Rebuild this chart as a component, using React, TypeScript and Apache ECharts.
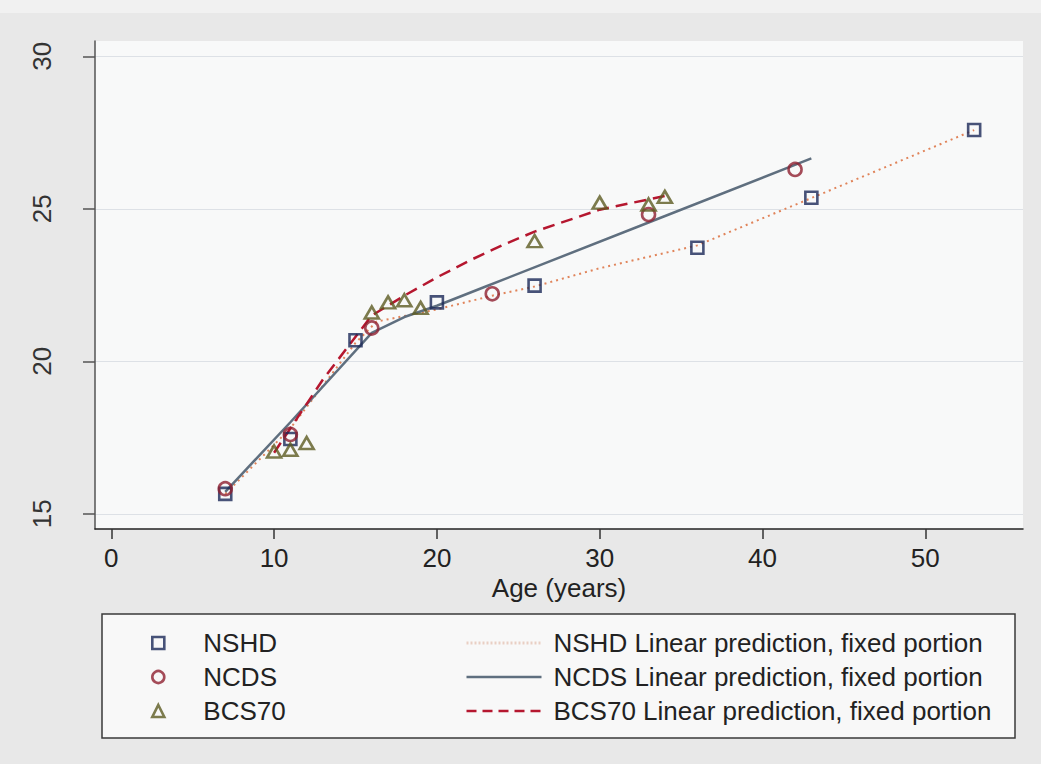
import React, { useEffect, useRef } from "react";
import * as echarts from "echarts";

// Observed values (age in years, BMI)
const nshdAge = [7, 11, 15, 20, 26, 36, 43, 53];
const nshdBmi = [15.65, 17.45, 20.69, 21.93, 22.48, 23.72, 25.36, 27.58];
const ncdsAge = [7, 11, 16, 23.4, 33, 42];
const ncdsBmi = [15.82, 17.6, 21.09, 22.21, 24.81, 26.29];
const bcsAge = [10, 11, 12, 16, 17, 18, 19, 26, 30, 33, 34];
const bcsBmi = [17.04, 17.1, 17.32, 21.6, 21.93, 22.0, 21.75, 23.94, 25.2, 25.14, 25.39];

// Linear predictions, fixed portion
const nshdFitAge = [7, 11, 15, 16.3, 20, 23.4, 26, 30, 36, 43, 53];
const nshdFitBmi = [15.65, 17.8, 20.6, 21.3, 21.7, 22.15, 22.45, 23.05, 23.8, 25.35, 27.58];
const ncdsFitAge = [7, 11, 16, 18, 20, 23, 33, 43];
const ncdsFitBmi = [15.72, 18.0, 20.93, 21.45, 21.82, 22.45, 24.55, 26.65];
const bcsFitAge = [10, 13, 16, 18, 20, 22, 24, 26, 30, 34];
const bcsFitBmi = [17.0, 19.4, 21.5, 22.15, 22.75, 23.3, 23.8, 24.25, 24.97, 25.42];

const xTicks = [0, 10, 20, 30, 40, 50];
const yTicks = [15, 20, 25, 30];

const cohortNames = ["NSHD", "NCDS", "BCS70"];
const fitNames = [
  "NSHD Linear prediction, fixed portion",
  "NCDS Linear prediction, fixed portion",
  "BCS70 Linear prediction, fixed portion",
];

const zip = (a: number[], b: number[]) => a.map((v, i) => [v, b[i]]);

const NAVY = "#1a2858";
const MAROON = "#8e1f30";
const OLIVE = "#5c5b22";
const ORANGE = "#e0845a";
const SLATE = "#5f6f7f";
const CRIMSON = "#b5172f";
const FONT = "'Liberation Sans', Arial, Helvetica, sans-serif";

export default function App() {
  const ref = useRef<HTMLDivElement>(null);
  useEffect(() => {
    if (!ref.current) return;
    const chart = echarts.init(ref.current, null, { renderer: "svg" });
    const hollow = (c: string) => ({ color: "rgba(0,0,0,0)", borderColor: c, borderWidth: 2.6 });
    const noSymbol = { opacity: 0, color: "rgba(0,0,0,0)", borderWidth: 0 };
    chart.setOption({
      animation: false,
      backgroundColor: "#e8e8e8",
      textStyle: { fontFamily: FONT },
      graphic: [
        { type: "rect", shape: { x: 0, y: 0, width: 1041, height: 13 }, style: { fill: "#f1f1f1" }, z: -10 },
        {
          type: "rect",
          shape: { x: 102, y: 614, width: 913, height: 124 },
          style: { fill: "#f8f8f8", stroke: "#3a3a3a", lineWidth: 1.5 },
          z: -1,
        },
      ],
      grid: {
        left: 95,
        right: 18,
        top: 41,
        bottom: 235,
        show: true,
        backgroundColor: "#f8f9f9",
        borderWidth: 0,
      },
      xAxis: {
        type: "value",
        min: -1,
        max: 56,
        name: "Age (years)",
        nameLocation: "middle",
        nameGap: 49,
        nameMoveOverlap: false,
        nameTextStyle: { fontSize: 26, lineHeight: 20, color: "#222", fontFamily: FONT },
        axisLine: { show: true, onZero: false, lineStyle: { color: "#222", width: 1.5 } },
        axisTick: { show: true, length: 10, customValues: xTicks, lineStyle: { color: "#333", width: 1.5 } },
        axisLabel: { customValues: xTicks, margin: 19, fontSize: 26, lineHeight: 20, color: "#222", fontFamily: FONT },
        splitLine: { show: false },
      },
      yAxis: {
        type: "value",
        min: 14.5,
        max: 30.5,
        axisLine: { show: true, onZero: false, lineStyle: { color: "#555", width: 1.5 } },
        axisTick: { show: true, length: 12, customValues: yTicks, lineStyle: { color: "#555", width: 1.5 } },
        axisLabel: { customValues: yTicks, rotate: 90, margin: 40, fontSize: 26, color: "#333", fontFamily: FONT },
        splitLine: { show: true, lineStyle: { color: "#dde1e6", width: 1 } },
      },
      legend: [
        {
          data: [
            { name: cohortNames[0], itemStyle: hollow(NAVY) },
            { name: cohortNames[1], itemStyle: hollow(MAROON) },
            { name: cohortNames[2], itemStyle: hollow(OLIVE) },
          ],
          orient: "vertical",
          left: 146,
          top: 625,
          itemWidth: 12,
          itemHeight: 12,
          itemGap: 8,
          selectedMode: false,
          textStyle: { fontSize: 26, lineHeight: 26, color: "#222", fontFamily: FONT, padding: [0, 0, 0, 34] },
        },
        {
          data: [
            { name: fitNames[0], itemStyle: noSymbol, lineStyle: { color: "#e9cfc4", width: 3, type: [2, 2] } },
            { name: fitNames[1], itemStyle: noSymbol, lineStyle: { color: SLATE, width: 2.5, type: "solid" } },
            { name: fitNames[2], itemStyle: noSymbol, lineStyle: { color: CRIMSON, width: 2.5, type: [10, 6] } },
          ],
          orient: "vertical",
          left: 460,
          top: 625,
          itemWidth: 75,
          itemHeight: 14,
          itemGap: 8,
          selectedMode: false,
          textStyle: { fontSize: 26, lineHeight: 26, color: "#222", fontFamily: FONT, padding: [0, 0, 0, 7] },
        },
      ],
      series: [
        {
          name: fitNames[0],
          type: "line",
          data: zip(nshdFitAge, nshdFitBmi),
          symbol: "none",
          lineStyle: { color: ORANGE, width: 2, type: [2, 4] },
          itemStyle: { color: ORANGE },
          z: 2,
        },
        {
          name: fitNames[1],
          type: "line",
          data: zip(ncdsFitAge, ncdsFitBmi),
          symbol: "none",
          lineStyle: { color: SLATE, width: 2.5, type: "solid" },
          itemStyle: { color: SLATE },
          z: 2,
        },
        {
          name: fitNames[2],
          type: "line",
          data: zip(bcsFitAge, bcsFitBmi),
          symbol: "none",
          lineStyle: { color: CRIMSON, width: 2.5, type: [12, 7] },
          itemStyle: { color: CRIMSON },
          z: 3,
        },
        {
          name: cohortNames[0],
          type: "scatter",
          data: zip(nshdAge, nshdBmi),
          symbol: "rect",
          symbolSize: 12,
          itemStyle: hollow(NAVY),
          z: 4,
        },
        {
          name: cohortNames[1],
          type: "scatter",
          data: zip(ncdsAge, ncdsBmi),
          symbol: "circle",
          symbolSize: 13,
          itemStyle: hollow(MAROON),
          z: 4,
        },
        {
          name: cohortNames[2],
          type: "scatter",
          data: zip(bcsAge, bcsBmi),
          symbol: "triangle",
          symbolSize: [14, 12],
          itemStyle: hollow(OLIVE),
          z: 4,
        },
      ],
    });
    return () => chart.dispose();
  }, []);
  return (
    <div
      ref={ref}
      style={{ position: "absolute", left: 0, top: 0, width: 1041, height: 764 }}
    />
  );
}
